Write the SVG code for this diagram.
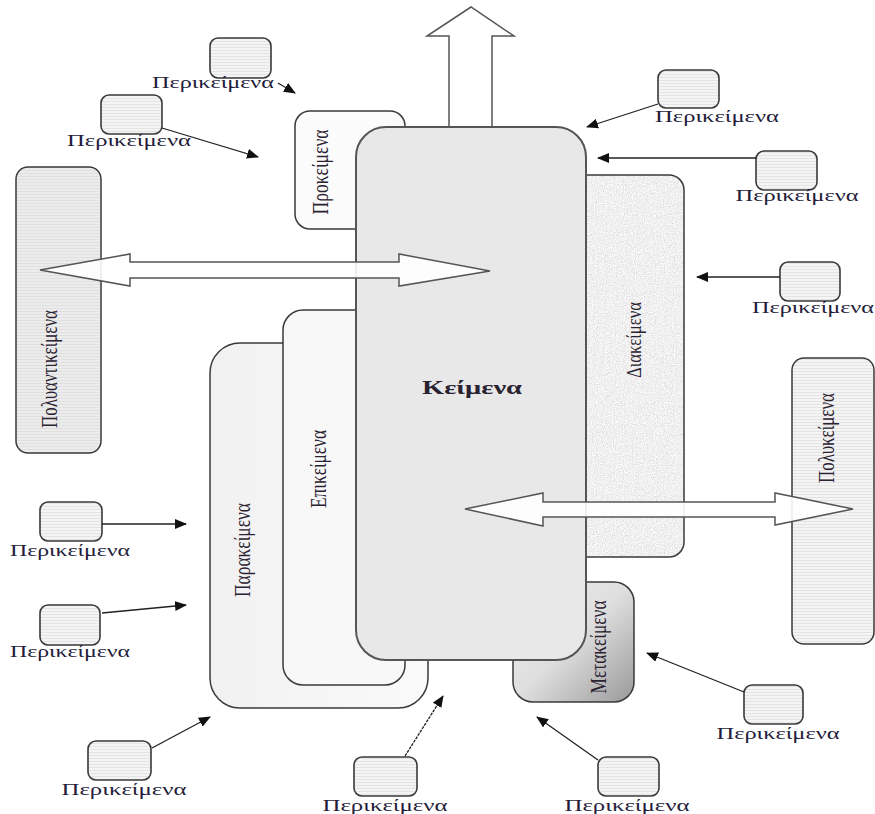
<svg xmlns="http://www.w3.org/2000/svg" width="875" height="814" viewBox="0 0 875 814">
<defs>
<pattern id="stripes" width="6" height="3" patternUnits="userSpaceOnUse">
<rect width="6" height="3" fill="#f4f4f4"/>
<rect y="2" width="6" height="1" fill="#e4e4e4"/>
</pattern>
<pattern id="stripesDark" width="6" height="3" patternUnits="userSpaceOnUse">
<rect width="6" height="3" fill="#ececec"/>
<rect y="2" width="6" height="1" fill="#e0e0e0"/>
</pattern>
<linearGradient id="metaGrad" x1="0" y1="0" x2="1" y2="1">
<stop offset="0" stop-color="#eeeeee"/>
<stop offset="0.5" stop-color="#dedede"/>
<stop offset="1" stop-color="#9a9a9a"/>
</linearGradient>
<linearGradient id="paraGrad" x1="0" y1="0" x2="1" y2="0">
<stop offset="0" stop-color="#f1f1f1"/>
<stop offset="1" stop-color="#fafafa"/>
</linearGradient>
<filter id="speckle" x="0" y="0" width="1" height="1">
<feTurbulence type="fractalNoise" baseFrequency="0.9" numOctaves="2" seed="3" result="n"/>
<feColorMatrix in="n" type="matrix" values="0.3 0.3 0.3 0 0.42  0.3 0.3 0.3 0 0.42  0.3 0.3 0.3 0 0.42  0 0 0 0 1" result="g"/>
<feComposite in="g" in2="SourceGraphic" operator="in"/>
</filter>
<marker id="ah" viewBox="0 0 12 10" refX="11" refY="5" markerWidth="12" markerHeight="10" markerUnits="userSpaceOnUse" orient="auto">
<path d="M0,0 L12,5 L0,10 Z" fill="#111"/>
</marker>
</defs>
<style>
.box{stroke:#3a3a3a;stroke-width:1.5}
.vt{font-family:"Liberation Serif","Times New Roman",serif;font-size:23px;fill:#2a2230;text-anchor:middle}
.lbl{font-family:"Liberation Serif","Times New Roman",serif;font-size:16px;fill:#241c3a;text-anchor:middle}
.sb{fill:url(#stripes);stroke:#3a3a3a;stroke-width:1.6}
.con{stroke:#222;stroke-width:1.3;fill:none;marker-end:url(#ah)}
.big{fill:#ffffff;fill-opacity:0.9;stroke:#555;stroke-width:1.5}
</style>
<rect width="875" height="814" fill="#ffffff"/>

<g id="up-arrow">
<path class="big" d="M449,128 L449,36 L427,36 L471,7 L514,36 L492,36 L492,128 Z" fill-opacity="1"/>
</g>

<g id="polyantikeimena">
<rect class="box" x="16" y="167" width="85" height="286" rx="12" fill="url(#stripesDark)"/>
<text class="vt" transform="translate(57,369) rotate(-90)" textLength="118" lengthAdjust="spacingAndGlyphs">Πολυαντικείμενα</text>
</g>

<g id="prokeimena">
<rect class="box" x="295" y="111" width="110" height="118" rx="15" fill="#fbfbfb"/>
<text class="vt" transform="translate(328,172) rotate(-90)" textLength="85" lengthAdjust="spacingAndGlyphs">Προκείμενα</text>
</g>

<g id="diakeimena">
<rect x="560" y="175" width="124" height="382" rx="15" fill="#ddd" filter="url(#speckle)"/>
<rect class="box" x="560" y="175" width="124" height="382" rx="15" fill="none"/>
<text class="vt" transform="translate(641,340) rotate(-90)" style="font-size:20px" textLength="76" lengthAdjust="spacingAndGlyphs">Διακείμενα</text>
</g>

<g id="metakeimena">
<rect class="box" x="513" y="582" width="121" height="120" rx="20" fill="url(#metaGrad)"/>
<text class="vt" transform="translate(606,647) rotate(-90)" textLength="93" lengthAdjust="spacingAndGlyphs">Μετακείμενα</text>
</g>

<g id="parakeimena">
<rect class="box" x="210" y="343" width="218" height="365" rx="30" fill="url(#paraGrad)"/>
<text class="vt" transform="translate(250,550) rotate(-90)" textLength="94" lengthAdjust="spacingAndGlyphs">Παρακείμενα</text>
</g>

<g id="epikeimena">
<rect class="box" x="283" y="310" width="122" height="375" rx="20" fill="#f8f8f8"/>
<text class="vt" transform="translate(326,469) rotate(-90)" textLength="78" lengthAdjust="spacingAndGlyphs">Επικείμενα</text>
</g>

<g id="keimena">
<rect x="356" y="127" width="230" height="533" rx="30" fill="#e8e8e8" stroke="#555" stroke-width="2"/>
<text x="472" y="394" style="font-family:'Liberation Serif','Times New Roman',serif;font-size:19px;font-weight:bold;fill:#2a2230;text-anchor:middle" textLength="100" lengthAdjust="spacingAndGlyphs">Κείμενα</text>
</g>

<g id="polykeimena">
<rect class="box" x="792" y="358" width="82" height="286" rx="12" fill="url(#stripes)"/>
<text class="vt" transform="translate(834,438) rotate(-90)" textLength="90" lengthAdjust="spacingAndGlyphs">Πολυκείμενα</text>
</g>

<g id="double-arrows">
<path class="big" d="M40,270 L130,254 L130,262 L399,262 L399,254 L490,271 L399,286 L399,278 L130,278 L130,286 Z"/>
<path class="big" d="M465,509 L543,493 L543,502 L775,502 L775,493 L853,509 L775,525 L775,517 L543,517 L543,526 Z"/>
</g>

<g id="p1"><rect class="sb" x="210" y="38" width="61" height="40" rx="8"/><text class="lbl" x="213" y="88" textLength="122" lengthAdjust="spacingAndGlyphs">Περικείμενα</text></g>
<g id="p2"><rect class="sb" x="101" y="95" width="61" height="39" rx="8"/><text class="lbl" x="129" y="146" textLength="124" lengthAdjust="spacingAndGlyphs">Περικείμενα</text></g>
<g id="p3"><rect class="sb" x="658" y="70" width="61" height="38" rx="8"/><text class="lbl" x="717" y="122" textLength="124" lengthAdjust="spacingAndGlyphs">Περικείμενα</text></g>
<g id="p4"><rect class="sb" x="756" y="151" width="61" height="39" rx="8"/><text class="lbl" x="797" y="201" textLength="123" lengthAdjust="spacingAndGlyphs">Περικείμενα</text></g>
<g id="p5"><rect class="sb" x="780" y="262" width="60" height="39" rx="8"/><text class="lbl" x="813" y="313" textLength="122" lengthAdjust="spacingAndGlyphs">Περικείμενα</text></g>
<g id="p6"><rect class="sb" x="40" y="502" width="62" height="39" rx="8"/><text class="lbl" x="70" y="556" textLength="120" lengthAdjust="spacingAndGlyphs">Περικείμενα</text></g>
<g id="p7"><rect class="sb" x="40" y="605" width="60" height="40" rx="8"/><text class="lbl" x="70" y="657" textLength="120" lengthAdjust="spacingAndGlyphs">Περικείμενα</text></g>
<g id="p8"><rect class="sb" x="88" y="741" width="63" height="39" rx="8"/><text class="lbl" x="124" y="795" textLength="125" lengthAdjust="spacingAndGlyphs">Περικείμενα</text></g>
<g id="p9"><rect class="sb" x="354" y="757" width="63" height="39" rx="8"/><text class="lbl" x="385" y="811" textLength="125" lengthAdjust="spacingAndGlyphs">Περικείμενα</text></g>
<g id="p10"><rect class="sb" x="598" y="757" width="61" height="39" rx="8"/><text class="lbl" x="627" y="811" textLength="125" lengthAdjust="spacingAndGlyphs">Περικείμενα</text></g>
<g id="p11"><rect class="sb" x="744" y="685" width="59" height="39" rx="8"/><text class="lbl" x="778" y="739" textLength="123" lengthAdjust="spacingAndGlyphs">Περικείμενα</text></g>

<g id="connectors">
<line class="con" x1="278" y1="83" x2="295" y2="93"/>
<line class="con" x1="162" y1="128" x2="258" y2="157"/>
<line class="con" x1="658" y1="104" x2="587" y2="127"/>
<line class="con" x1="756" y1="158" x2="598" y2="158"/>
<line class="con" x1="780" y1="277" x2="697" y2="277"/>
<line class="con" x1="102" y1="524" x2="186" y2="524"/>
<line class="con" x1="102" y1="613" x2="186" y2="605"/>
<line class="con" x1="152" y1="748" x2="210" y2="717"/>
<line class="con" x1="405" y1="756" x2="443" y2="696" stroke-dasharray="3 1"/>
<line class="con" x1="598" y1="760" x2="537" y2="717"/>
<line class="con" x1="744" y1="692" x2="647" y2="653"/>
</g>
</svg>
